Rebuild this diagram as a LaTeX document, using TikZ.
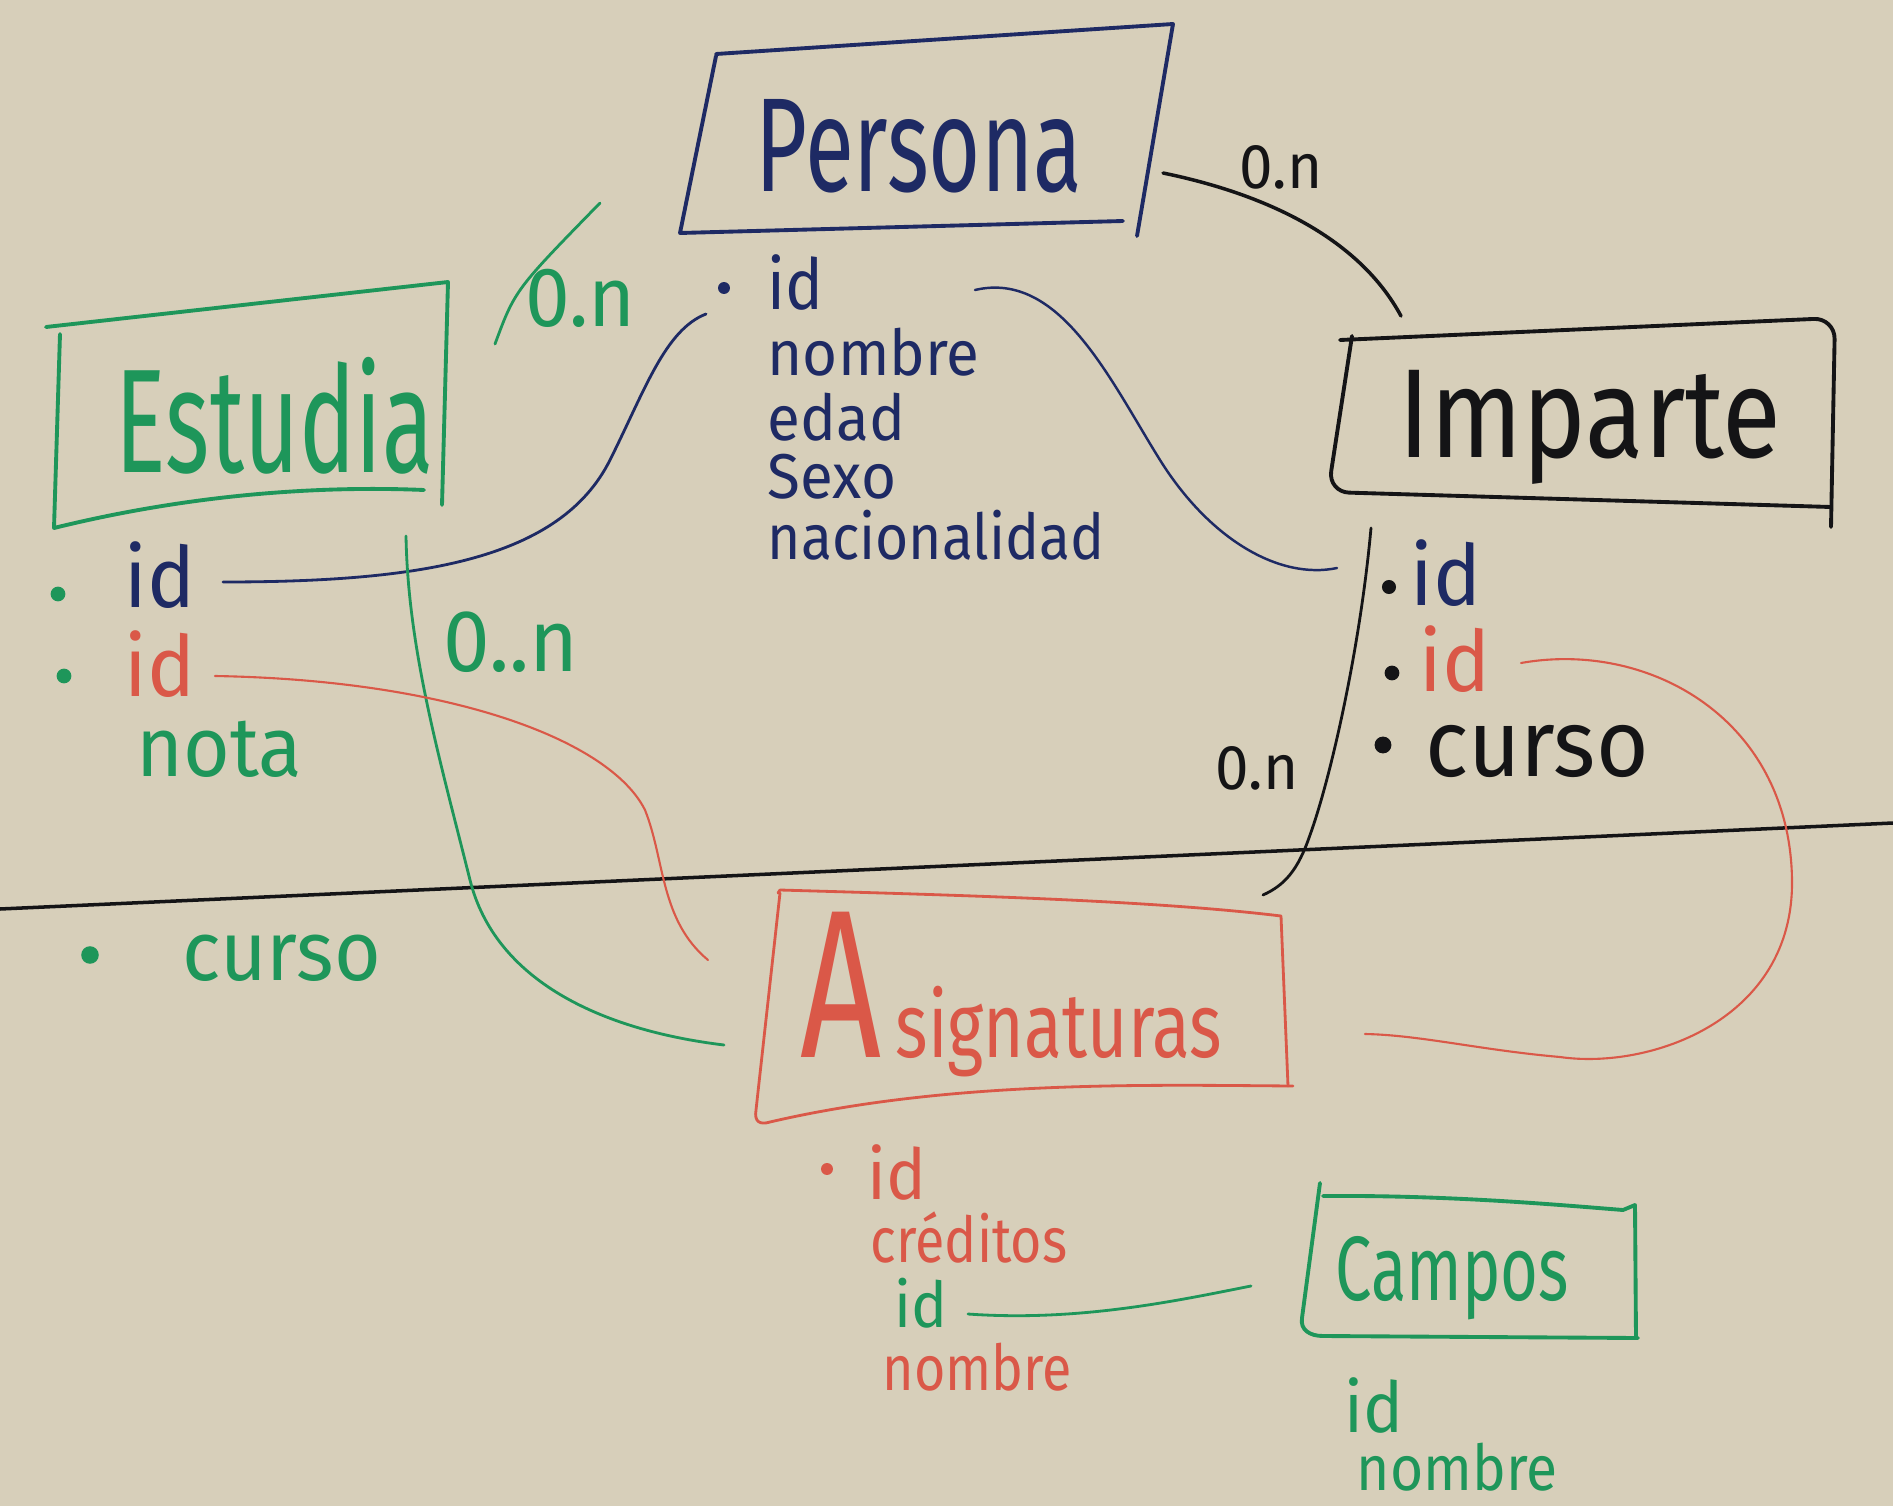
\documentclass[tikz,border=0pt]{standalone}
\usepackage{fontspec}
\setmainfont{Fira Sans}
\usepackage{graphicx}
\definecolor{board}{RGB}{215,207,186}
\definecolor{grn}{RGB}{30,150,90}
\definecolor{nav}{RGB}{30,42,100}
\definecolor{rd}{RGB}{218,88,72}
\definecolor{blk}{RGB}{20,20,22}
\newcommand\hwf[3]{\fontsize{#1}{#1}\selectfont\scalebox{#2}[1]{#3}}
\begin{document}
\begin{tikzpicture}[x=0.01cm,y=-0.01cm,
  txt/.style={anchor=base west, inner sep=0pt},
  box/.style={line width=1.1pt, line cap=round, line join=round},
  con/.style={line width=0.8pt, line cap=round},
  thin/.style={line width=0.6pt, line cap=round},
  dot/.style={circle, fill, inner sep=0pt, minimum size=#1},
  dot/.default=4.2pt]
\useasboundingbox (0,0) rectangle (1893,1506);
\fill[board] (0,0) rectangle (1893,1506);

% divider line
\coordinate (divL) at (0,909);
\coordinate (divR) at (1893,823);
\draw[blk, line width=1pt] (divL) -- (divR);

% ---------- Persona ----------
\draw[box,nav] (716,54) -- (1173,24) -- (1137,236);
\draw[box,nav] (716,56) -- (680,233) -- (1123,221);
\node[txt,nav] (persona) at (755,191) {\hwf{38}{0.67}{Persona}};
\node[dot=3.4pt,nav] (pbul) at (724,288) {};
\node[txt,nav] (pid) at (767,309) {\hwf{20}{0.9}{id}};
\node[txt,nav] (pnom) at (767,375) {\hwf{18}{0.95}{nombre}};
\node[txt,nav] (pedad) at (767,440) {\hwf{18}{0.95}{edad}};
\node[txt,nav] (psexo) at (767,498) {\hwf{18}{0.95}{Sexo}};
\node[txt,nav] (pnac) at (767,559) {\hwf{18}{0.9}{nacionalidad}};

% ---------- Estudia ----------
\draw[box,grn] (46,327) -- (448,282) -- (442,505);
\draw[box,grn] (60,334) -- (54,528) .. controls (200,492) and (330,486) .. (424,490);
\node[txt,grn] (estudia) at (115,472) {\hwf{42}{0.64}{Estudia}};
\node[dot,grn] (eb1) at (58,594) {};
\node[txt,nav] (eid1) at (124,607) {\hwf{24}{0.95}{id}};
\node[dot,grn] (eb2) at (64,676) {};
\node[txt,rd] (eid2) at (124,696) {\hwf{24}{0.95}{id}};
\node[txt,grn] (enota) at (136,776) {\hwf{24}{0.95}{nota}};
\node[dot=5pt,grn] (eb3) at (90,955) {};
\node[txt,grn] (ecurso) at (182,980) {\hwf{24}{0.95}{curso}};

% ---------- Imparte ----------
\draw[box,blk,rounded corners=6pt] (1340,340) -- (1835,318) -- (1831,527);
\draw[box,blk,rounded corners=6pt] (1352,336) -- (1328,492) -- (1831,507);
\node[txt,blk] (imparte) at (1398,457) {\hwf{36}{0.85}{Imparte}};
\node[dot=4pt,blk] (ib1) at (1389,587) {};
\node[txt,nav] (iid1) at (1410,605) {\hwf{24}{0.95}{id}};
\node[dot=4.2pt,blk] (ib2) at (1392,673) {};
\node[txt,rd] (iid2) at (1419,691) {\hwf{24}{0.95}{id}};
\node[dot=4.8pt,blk] (ib3) at (1383,745) {};
\node[txt,blk] (icurso) at (1425,776) {\hwf{27}{0.95}{curso}};

% ---------- Asignaturas ----------
\draw[box,rd,line width=0.8pt] (778,893) -- (780,890) .. controls (950,895) and (1150,900) .. (1281,916) -- (1288,1086);
\draw[box,rd,line width=0.8pt] (780,893) -- (756,1110) .. controls (754,1122) and (760,1125) .. (770,1122) .. controls (950,1080) and (1150,1085) .. (1293,1086);
\node[txt,rd] (asig) at (800,1057) {\hwf{60}{0.67}{A}\hspace{4pt}\hwf{26}{0.76}{signaturas}};
\node[dot=3.4pt,rd] (ab1) at (827,1169) {};
\node[txt,rd] (aid) at (867,1199) {\hwf{20}{0.95}{id}};
\node[txt,rd] (acred) at (870,1262) {\hwf{18}{0.85}{créditos}};
\node[txt,grn] (aid2) at (894,1327) {\hwf{18}{0.95}{id}};
\node[txt,rd] (anom) at (882,1390) {\hwf{18}{0.85}{nombre}};

% ---------- Campos ----------
\draw[box,grn] (1320,1183) -- (1302,1318) .. controls (1300,1330) and (1310,1336) .. (1323,1336) -- (1638,1338);
\draw[box,grn] (1323,1196) .. controls (1450,1195) and (1560,1205) .. (1623,1210) -- (1635,1205) -- (1636,1338);
\node[txt,grn] (campos) at (1335,1300) {\hwf{26}{0.71}{Campos}};
\node[txt,grn] (cid) at (1344,1432) {\hwf{20}{0.95}{id}};
\node[txt,grn] (cnom) at (1356,1490) {\hwf{18}{0.9}{nombre}};

% ---------- connector labels ----------
\node[txt,grn] (l1) at (525,326) {\hwf{24}{0.95}{0.n}};
\node[txt,grn] (l2) at (443,671) {\hwf{25}{0.95}{0..n}};
\node[txt,blk] (l3) at (1239,189) {\hwf{18}{0.95}{0.n}};
\node[txt,blk] (l4) at (1215,789) {\hwf{18}{0.95}{0.n}};

% ---------- connectors ----------
% Estudia -- Persona (green)
\coordinate (c1a) at (495,344);
\coordinate (c1b) at (600,203);
\draw[con,grn] (c1a) .. controls (515,290) .. (c1b);
% Estudia id -- Persona id (navy)
\coordinate (c2a) at (223,582);
\coordinate (c2b) at (706,314);
\draw[con,nav] (c2a) .. controls (420,582) and (560,560) .. (610,460)
  .. controls (645,390) and (665,330) .. (c2b);
% Persona id -- Imparte id (navy)
\coordinate (c3a) at (975,290);
\coordinate (c3b) at (1337,568);
\draw[con,nav,line width=0.7pt] (c3a) .. controls (1060,270) and (1110,380) .. (1160,460)
  .. controls (1210,540) and (1280,580) .. (c3b);
% Persona -- Imparte (black)
\coordinate (c4a) at (1163,173);
\coordinate (c4b) at (1401,316);
\draw[con,blk,line width=1pt] (c4a) .. controls (1270,195) and (1360,240) .. (c4b);
% Estudia -- Asignaturas (green)
\coordinate (c5a) at (406,536);
\coordinate (c5b) at (724,1045);
\draw[con,grn] (c5a) .. controls (408,650) and (440,760) .. (470,880)
  .. controls (495,980) and (600,1030) .. (c5b);
% Estudia red id -- Asignaturas (red)
\coordinate (c6a) at (215,676);
\coordinate (c6b) at (708,960);
\draw[thin,rd] (c6a) .. controls (450,680) and (610,740) .. (645,810)
  .. controls (665,860) and (660,920) .. (c6b);
% Imparte red id -- Asignaturas (red loop)
\coordinate (c7a) at (1521,663);
\coordinate (c7b) at (1365,1034);
\draw[thin,rd] (c7a) .. controls (1650,640) and (1790,720) .. (1792,880)
  .. controls (1794,1020) and (1650,1070) .. (1560,1057)
  .. controls (1480,1050) and (1420,1035) .. (c7b);
% Imparte -- Asignaturas (black)
\coordinate (c8a) at (1371,528);
\coordinate (c8b) at (1263,895);
\draw[con,blk] (c8a) .. controls (1360,650) and (1330,780) .. (1310,835)
  .. controls (1298,870) and (1285,885) .. (c8b);
% Asignaturas id -- Campos (green)
\coordinate (c9a) at (968,1314);
\coordinate (c9b) at (1251,1286);
\draw[con,grn] (c9a) .. controls (1080,1322) and (1180,1300) .. (c9b);
\end{tikzpicture}
\end{document}
